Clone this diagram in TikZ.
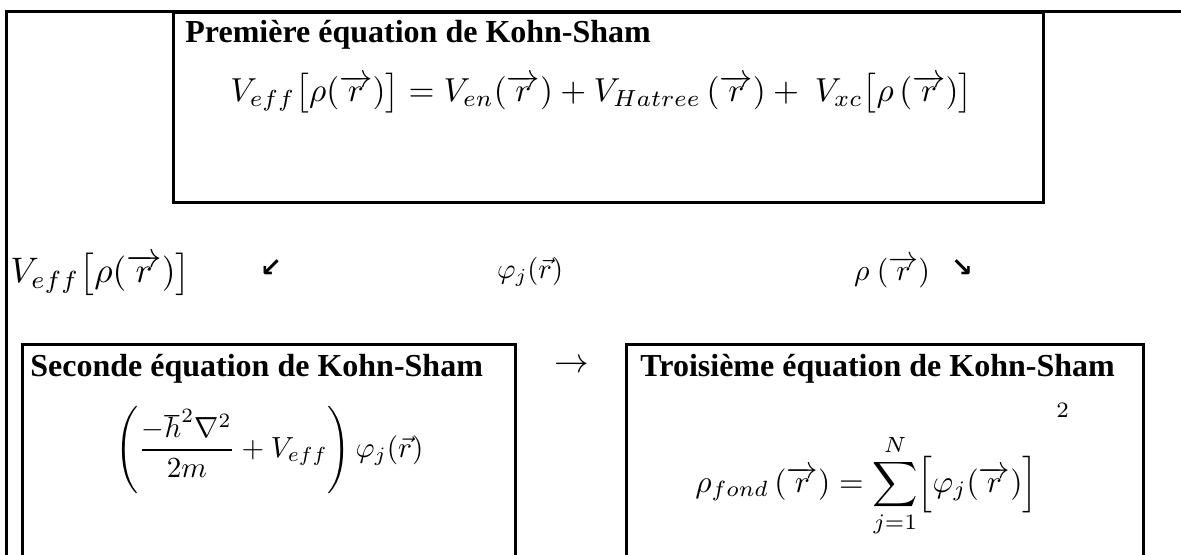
\documentclass[tikz,border=0pt]{standalone}
\usepackage{fontspec}
\setmainfont{Liberation Serif}
\newfontfamily\symfont{DejaVu Sans}
\usepackage{amsmath}
\usepackage{graphicx}
\begin{document}
\begin{tikzpicture}[x=0.5pt,y=-0.5pt]
\tikzset{
  frame/.style={line width=1.5pt},
  box/.style={draw, line width=1.5pt, rectangle, inner sep=0pt, anchor=north west},
  title/.style={font=\bfseries\fontsize{16}{19}\selectfont, inner sep=0pt, anchor=base west},
  eq/.style={inner sep=0pt, anchor=west},
  lbl/.style={inner sep=0pt, anchor=center},
  sym/.style={font=\symfont\bfseries\fontsize{13}{15}\selectfont, inner sep=0pt, anchor=center}
}
\useasboundingbox (0,0) rectangle (1181,554);
% outer frame
\coordinate (fr1) at (1190,11);
\coordinate (fr2) at (6,11);
\coordinate (fr3) at (6,570);
\draw[frame] (fr1) -- (fr2) -- (fr3);
% boxes
\node[box, minimum width=435pt, minimum height=95pt] (box1) at (172,11) {};
\node[box, minimum width=246.5pt, minimum height=115pt] (box2) at (21,343) {};
\node[box, minimum width=258.5pt, minimum height=115pt] (box3) at (625,343) {};
% titles
\node[title] (t1) at (185,42) {Première équation de Kohn-Sham};
\node[title] (t2) at (30,376) {Seconde équation de Kohn-Sham};
\node[title] (t3) at (640,376) {Troisième équation de Kohn-Sham};
% equations
\node[eq] (eq1) at (230,93) {\resizebox{371pt}{!}{$V_{eff}\bigl[\rho(\overrightarrow{r})\bigr] = V_{en}(\overrightarrow{r}) + V_{Hatree}\,(\overrightarrow{r}) +\ V_{xc}\bigl[\rho\,(\overrightarrow{r})\bigr]$}};
\node[eq] (eq2) at (115,450) {\resizebox{154pt}{!}{$\displaystyle\left(\frac{-\hbar^{2}\nabla^{2}}{2m} + V_{eff}\right)\varphi_j(\vec{r})$}};
\node[eq] (eq3) at (695,470) {\resizebox{187.5pt}{!}{$\displaystyle\rho_{fond}\,(\overrightarrow{r}) = \sum_{j=1}^{N}\Bigl[\varphi_j(\overrightarrow{r})\Bigr]^{\raisebox{3.2ex}{$\scriptstyle\hspace{0.6em}2$}}$}};
% middle row
\node[eq] (veff) at (10,274) {\resizebox{90pt}{!}{$V_{eff}\bigl[\rho(\overrightarrow{r})\bigr]$}};
\node[sym] (a1) at (271,268) {↙};
\node[lbl] (phi) at (530,272) {\resizebox{33pt}{!}{$\varphi_j(\vec{r})$}};
\node[lbl] (rho) at (892,272) {\resizebox{38pt}{!}{$\rho\ (\overrightarrow{r})$}};
\node[sym] (a2) at (962,268) {↘};
\node[lbl] (a3) at (572,366) {\fontsize{16}{19}\selectfont$\rightarrow$};
\end{tikzpicture}
\end{document}
